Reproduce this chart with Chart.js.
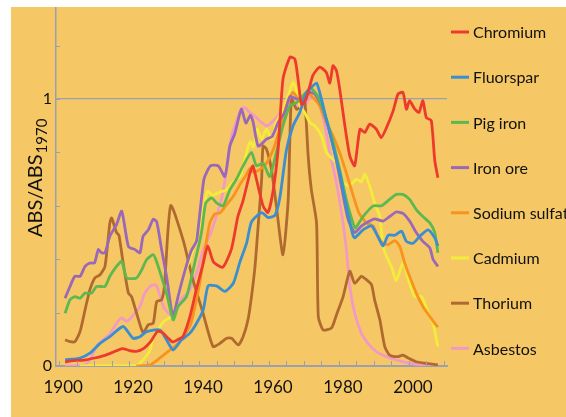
<!DOCTYPE html>
<html>
<head>
<meta charset="utf-8">
<script src="https://cdn.jsdelivr.net/npm/chart.js@4"></script>
<style>
  html, body { margin: 0; padding: 0; background: #ffffff; }
  #wrap { position: absolute; left: 11px; top: 7px; width: 555px; height: 410px; background: #F6C865; overflow: hidden; }
</style>
</head>
<body>
<div id="wrap"><canvas id="main-chart"></canvas></div>
<script>
// 数据
const seriesNames = ['Chromium', 'Fluorspar', 'Pig iron', 'Iron ore', 'Sodium sulfate', 'Cadmium', 'Thorium', 'Asbestos'];
const seriesColors = ['#EE3A2C', '#3A8FD0', '#5DB94F', '#9A68B8', '#F7931E', '#F2EC3B', '#B06A2F', '#F29AC4'];
const xTickYears = [1900, 1920, 1940, 1960, 1980, 2000];
const yTickValues = [0, 1];

const chromiumYears = [1901.7,1904.1,1907.1,1910.1,1913.1,1915.1,1918.1,1920.1,1922.1,1924.1,1926.1,1928.1,1929.6,1931.1,1932.5,1934.1,1935.4,1937.4,1939.1,1941.1,1942.5,1944.1,1946.8,1949.3,1951.1,1952.6,1954.5,1955.4,1956.4,1958.3,1959.7,1961.1,1962.6,1964,1966,1967.4,1968.3,1969.3,1970.6,1971.7,1972.6,1974.5,1976.4,1977.4,1978.3,1979.3,1980.2,1981.7,1983.1,1984.5,1986,1987.4,1988.8,1990.7,1992.1,1993.6,1995.5,1996.9,1998.3,1999.3,2000.2,2001.7,2002.9,2004,2005,2006.4,2007.4,2008.3];
const chromiumValues = [0.015,0.02,0.022,0.03,0.04,0.05,0.065,0.058,0.055,0.065,0.09,0.13,0.125,0.105,0.09,0.1,0.11,0.185,0.28,0.38,0.45,0.39,0.37,0.44,0.56,0.62,0.72,0.75,0.70,0.6,0.575,0.65,0.81,1.075,1.157,1.15,1.075,0.98,1.0,1.05,1.09,1.12,1.10,1.06,1.125,1.106,1.04,0.90,0.787,0.75,0.887,0.875,0.906,0.887,0.856,0.893,0.956,1.019,1.025,0.962,0.994,0.962,0.95,0.994,0.93,0.92,0.77,0.705];

const fluorsparYears = [1901.7,1906,1908.8,1911.7,1914.5,1918.3,1921.1,1923.1,1925,1928.8,1930.7,1932.6,1935,1937.4,1939.3,1941.2,1942.6,1945,1947.4,1949.8,1951.7,1953.6,1955,1957.9,1959.8,1961.7,1963.1,1965,1966.9,1968.8,1970.7,1972.6,1973.6,1974.5,1976.4,1978.3,1980.2,1982.1,1984,1984.5,1986.9,1989.3,1991.1,1992.6,1994.1,1996,1997.9,1999.3,2001.2,2003.1,2005.5,2007.4,2008.3];
const fluorsparValues = [0.023,0.03,0.048,0.085,0.11,0.148,0.104,0.11,0.129,0.135,0.098,0.06,0.098,0.123,0.16,0.21,0.30,0.30,0.28,0.31,0.39,0.46,0.54,0.575,0.556,0.565,0.63,0.81,0.90,0.95,1.025,1.05,1.06,1.025,0.925,0.825,0.724,0.6,0.49,0.48,0.51,0.525,0.486,0.45,0.49,0.49,0.505,0.467,0.46,0.486,0.51,0.48,0.45];

const pigIronYears = [1901.7,1903.1,1904.5,1906,1907.4,1909.3,1910.7,1913.1,1914.5,1916.4,1917.9,1919.3,1922.1,1923.6,1925,1926.9,1927.9,1929.6,1930.7,1932.6,1934,1936.4,1938.3,1940.7,1941.9,1943.6,1945.1,1946.9,1948.8,1950.7,1952.6,1955,1956.4,1958.3,1960.2,1962.1,1964,1966,1967.9,1970.2,1972.1,1974,1976,1977.9,1980.2,1982.1,1984,1984.7,1986.9,1989.8,1992.1,1994.5,1996.4,1998.3,2000.2,2002.1,2004,2006,2007.4,2008.3];
const pigIronValues = [0.198,0.248,0.26,0.254,0.273,0.273,0.298,0.298,0.336,0.373,0.392,0.33,0.33,0.36,0.398,0.417,0.39,0.32,0.273,0.173,0.223,0.26,0.36,0.5,0.61,0.63,0.61,0.6,0.66,0.70,0.75,0.8,0.75,0.76,0.71,0.8,0.9,0.975,0.987,1.019,1.038,1.01,0.94,0.86,0.737,0.624,0.536,0.517,0.56,0.6,0.6,0.624,0.643,0.643,0.624,0.586,0.56,0.536,0.5,0.424];

const ironOreYears = [1901.7,1903.1,1904.5,1906,1907.4,1908.8,1910.1,1911.2,1912.1,1913.1,1914.5,1916.4,1917.9,1919.8,1921.7,1923.1,1924,1925.5,1926.9,1927.9,1929.3,1930.7,1932.1,1932.6,1934,1935.5,1937.7,1939.3,1941.4,1943.3,1945.5,1947.4,1948.8,1950.2,1952.1,1953.4,1954.7,1955.5,1956.9,1959.3,1960.9,1962.6,1964.5,1966,1967.9,1969.8,1971.7,1973.1,1975,1976.9,1978.8,1980.7,1982.6,1984.5,1986.4,1988.8,1990.2,1992.6,1994.5,1996.4,1998.3,2000.2,2002.1,2004,2006,2006.9,2008.3];
const ironOreValues = [0.254,0.298,0.336,0.336,0.373,0.386,0.386,0.436,0.424,0.424,0.486,0.53,0.58,0.448,0.436,0.424,0.486,0.51,0.55,0.54,0.436,0.336,0.21,0.185,0.26,0.336,0.43,0.47,0.7,0.75,0.75,0.71,0.824,0.87,0.962,0.91,0.94,0.912,0.824,0.85,0.86,0.912,0.95,1.01,1.0,1.006,1.025,1.019,0.975,0.9,0.8,0.674,0.55,0.5,0.524,0.543,0.551,0.543,0.56,0.577,0.572,0.543,0.5,0.467,0.442,0.4,0.373];

const sodiumSulfateYears = [1922.1,1926,1928.8,1931.7,1933.6,1935.5,1937.4,1938.3,1940.2,1941.7,1943.1,1944.5,1946,1947.6,1949.8,1951.7,1953.6,1954.5,1955.5,1957.4,1959.3,1961.2,1963.1,1965,1966.9,1968.8,1970.7,1972.6,1974.5,1976.4,1978.3,1980.2,1982.1,1983.8,1985.7,1987.9,1989.8,1991.1,1992.6,1994.1,1996,1997.4,1998.8,2000.2,2002.1,2004,2006,2007.4,2008.3];
const sodiumSulfateValues = [0,0.004,0.03,0.06,0.08,0.11,0.15,0.19,0.31,0.436,0.536,0.57,0.574,0.6,0.636,0.68,0.718,0.74,0.726,0.737,0.76,0.81,0.887,0.975,1.025,0.994,1.025,1.006,0.975,0.912,0.862,0.8,0.724,0.65,0.574,0.536,0.524,0.486,0.46,0.455,0.47,0.448,0.386,0.336,0.273,0.223,0.185,0.16,0.146];

const cadmiumYears = [1906,1911,1916,1922.1,1924,1926,1926.9,1927.9,1929.8,1931.4,1932.6,1934,1935.5,1937.4,1939.3,1941.2,1942.4,1943.8,1946,1947.9,1949.8,1951.7,1952.6,1953.6,1954.6,1955.6,1956.6,1957.9,1959.3,1960.7,1962.1,1964,1965.5,1966.9,1967.9,1968.8,1970.2,1971.7,1973.1,1975,1976.4,1978.3,1979.3,1981.2,1983.1,1985,1986.4,1987.4,1988.8,1990.2,1991.7,1992.6,1993.6,1995,1996.4,1998.3,2000.2,2001.7,2003.6,2006,2006.9,2008.3];
const cadmiumValues = [0,0,0,0.002,0.023,0.06,0.11,0.13,0.165,0.18,0.19,0.26,0.336,0.4,0.486,0.586,0.655,0.64,0.652,0.66,0.69,0.71,0.75,0.8,0.84,0.82,0.887,0.85,0.887,0.85,0.912,0.962,1.013,1.063,1.03,0.975,0.95,0.912,0.9,0.862,0.8,0.774,0.762,0.686,0.676,0.7,0.69,0.718,0.674,0.61,0.56,0.45,0.411,0.373,0.32,0.386,0.31,0.26,0.26,0.185,0.16,0.073];

const thoriumYears = [1901.7,1903.1,1904.5,1906,1907.4,1908.8,1910.2,1911.7,1913.1,1914.5,1915,1916.4,1917.1,1918.3,1919.8,1920.7,1922.1,1924,1925.5,1926.9,1927.9,1929.3,1930.1,1931.9,1935.5,1938.1,1941.1,1944,1946,1947.9,1949.3,1951.2,1952.6,1954,1955,1956,1956.9,1957.9,1958.3,1959.3,1960.7,1962.1,1964,1965.5,1966.4,1967.9,1969.3,1970.2,1971.2,1972.1,1973.6,1974.1,1975.5,1977.9,1979.3,1981.2,1983.1,1984.5,1986.4,1987.9,1989.3,1990.2,1991.7,1993.1,1994.5,1996.9,1998.3,1999.8,2002.1,2005,2008.3];
const thoriumValues = [0.098,0.091,0.091,0.13,0.21,0.286,0.33,0.342,0.373,0.536,0.555,0.5,0.49,0.386,0.273,0.26,0.2,0.125,0.155,0.16,0.242,0.248,0.3,0.601,0.47,0.33,0.2,0.073,0.085,0.104,0.104,0.079,0.11,0.173,0.26,0.373,0.524,0.7,0.824,0.812,0.737,0.6,0.417,0.624,1.0,0.962,0.975,1.0,0.787,0.662,0.536,0.185,0.135,0.143,0.192,0.26,0.355,0.31,0.336,0.323,0.305,0.248,0.173,0.073,0.041,0.035,0.041,0.03,0.016,0.01,0.004];

const asbestosYears = [1901.7,1906.9,1908.8,1910.7,1912.6,1914.5,1916.4,1917.9,1919.3,1921.2,1923.1,1924.5,1926,1927.4,1928.3,1929.8,1931.1,1932.6,1935,1936.9,1939.3,1941.2,1943.1,1944.5,1946.4,1947.9,1949.3,1950.7,1952.1,1953.1,1954.5,1956,1957.4,1959.3,1960.7,1962.6,1964,1965.5,1966.9,1968.8,1970.2,1971.7,1973.1,1974.5,1976,1977.4,1979.3,1980.9,1982.1,1983.1,1984.5,1986.4,1988.3,1990.7,1993.6,1996.4,2000.2,2004,2008.3];
const asbestosValues = [0,0,0.024,0.073,0.098,0.12,0.16,0.18,0.167,0.19,0.223,0.273,0.298,0.305,0.286,0.223,0.2,0.185,0.254,0.273,0.348,0.436,0.49,0.543,0.624,0.737,0.862,0.918,0.965,0.968,0.95,0.935,0.918,0.9,0.912,0.937,0.962,0.98,0.994,0.962,0.975,1.006,1.0,0.975,0.9,0.8,0.686,0.56,0.44,0.298,0.198,0.123,0.085,0.054,0.035,0.023,0.01,0.004,0];

const seriesYears = [chromiumYears, fluorsparYears, pigIronYears, ironOreYears, sodiumSulfateYears, cadmiumYears, thoriumYears, asbestosYears];
const seriesValues = [chromiumValues, fluorsparValues, pigIronValues, ironOreValues, sodiumSulfateValues, cadmiumValues, thoriumValues, asbestosValues];

const axisColor = '#99A0B2';
const fontFamily = 'Lato, "Open Sans", sans-serif';

// 坐标轴小刻度、图例、纵轴标题
const decorPlugin = {
    id: 'decor',
    afterDraw(chart) {
        const { ctx, chartArea: a, scales: { x, y } } = chart;
        ctx.save();

        // 小刻度 (朝内)
        ctx.strokeStyle = axisColor;
        ctx.lineWidth = 1;
        ctx.beginPath();
        for (let yr = 1900; yr <= 2010; yr += 5) {
            const px = Math.round(x.getPixelForValue(yr)) + 0.5;
            ctx.moveTo(px, a.bottom);
            ctx.lineTo(px, a.bottom - 5);
        }
        for (let v = 0.2; v < 1.3; v += 0.2) {
            const py = Math.round(y.getPixelForValue(v)) + 0.5;
            ctx.moveTo(a.left, py);
            ctx.lineTo(a.left + 4, py);
        }
        ctx.stroke();

        // 自定义图例
        const lx = a.right + 4;
        const step = 45.2;
        ctx.font = '16px ' + fontFamily;
        ctx.textBaseline = 'middle';
        ctx.textAlign = 'left';
        chart.data.datasets.forEach((ds, i) => {
            const ly = a.top + 25 + i * step;
            ctx.strokeStyle = ds.borderColor;
            ctx.lineWidth = 3;
            ctx.beginPath();
            ctx.moveTo(lx, ly);
            ctx.lineTo(lx + 18, ly);
            ctx.stroke();
            ctx.fillStyle = '#111111';
            ctx.fillText(ds.label, lx + 22, ly + 1);
        });

        // 纵轴标题 ABS/ABS_1970
        ctx.translate(31, 230);
        ctx.rotate(-Math.PI / 2);
        ctx.textBaseline = 'alphabetic';
        ctx.fillStyle = '#111111';
        ctx.font = '20px ' + fontFamily;
        ctx.fillText('ABS/ABS', 0, 0);
        const w = ctx.measureText('ABS/ABS').width;
        ctx.font = '15px ' + fontFamily;
        ctx.fillText('1970', w + 1, 5);

        ctx.restore();
    }
};

const datasets = seriesNames.map((name, i) => ({
    label: name,
    data: seriesYears[i].map((yr, j) => ({ x: yr, y: seriesValues[i][j] })),
    borderColor: seriesColors[i],
    backgroundColor: seriesColors[i],
    borderWidth: 2.8,
    pointRadius: 0,
    tension: 0.2,
    fill: false
}));

new Chart(document.getElementById('main-chart'), {
    type: 'line',
    data: { datasets },
    plugins: [decorPlugin],
    options: {
        responsive: true,
        maintainAspectRatio: false,
        animation: false,
        layout: { padding: { left: 0, right: 119, top: 0, bottom: 0 } },
        plugins: {
            legend: { display: false },
            tooltip: { enabled: false }
        },
        scales: {
            x: {
                type: 'linear',
                min: 1899.1,
                max: 2010.9,
                afterFit: s => { s.height = 51; s.paddingLeft = 0; s.paddingRight = 0; },
                afterBuildTicks: s => { s.ticks = xTickYears.map(v => ({ value: v })); },
                ticks: {
                    color: '#111111',
                    font: { family: fontFamily, size: 17 },
                    padding: 11,
                    labelOffset: 4,
                    maxRotation: 0,
                    callback: v => String(v)
                },
                grid: { display: false, drawTicks: false },
                border: { display: true, color: axisColor, width: 2 }
            },
            y: {
                type: 'linear',
                min: 0,
                max: 1.345,
                afterFit: s => { s.width = 45; s.paddingTop = 0; s.paddingBottom = 0; },
                afterBuildTicks: s => { s.ticks = yTickValues.map(v => ({ value: v })); },
                ticks: {
                    color: '#111111',
                    font: { family: fontFamily, size: 16 },
                    padding: 4,
                    callback: v => String(v)
                },
                grid: {
                    drawTicks: false,
                    color: c => (c.tick && c.tick.value === 1 ? axisColor : 'rgba(0,0,0,0)'),
                    lineWidth: 1.2
                },
                border: { display: true, color: axisColor, width: 1.5 }
            }
        }
    }
});
</script>
</body>
</html>
